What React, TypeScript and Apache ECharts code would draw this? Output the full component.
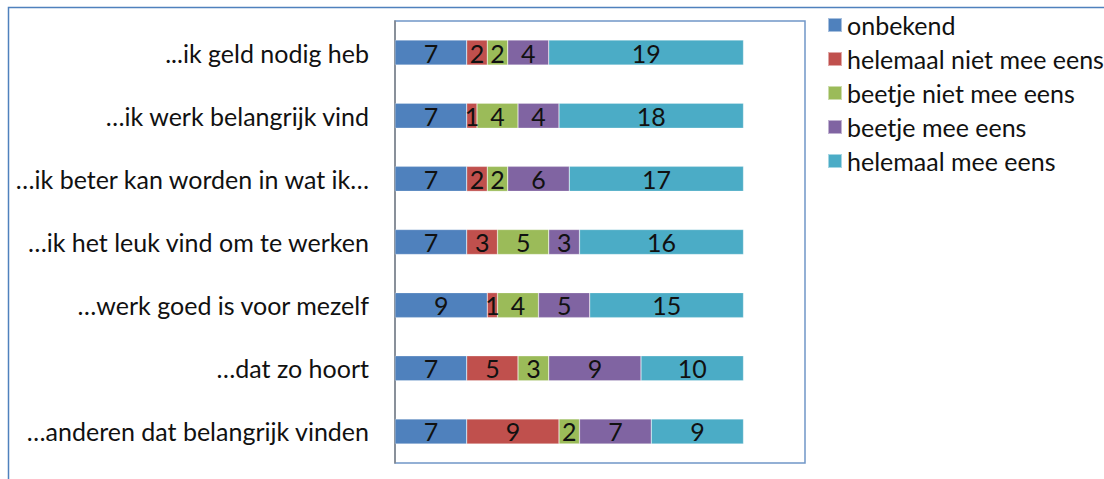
import React, { useEffect, useRef } from "react";
import * as echarts from "echarts";

const categories = [
  "...ik geld nodig heb",
  "…ik werk belangrijk vind",
  "…ik beter kan worden in wat ik…",
  "…ik het leuk vind om te werken",
  "…werk goed is voor mezelf",
  "…dat zo hoort",
  "…anderen dat belangrijk vinden",
];
const seriesNames = [
  "onbekend",
  "helemaal niet mee eens",
  "beetje niet mee eens",
  "beetje mee eens",
  "helemaal mee eens",
];
const onbekend = [7, 7, 7, 7, 9, 7, 7];
const helemaalNiet = [2, 1, 2, 3, 1, 5, 9];
const beetjeNiet = [2, 4, 2, 5, 4, 3, 2];
const beetjeMee = [4, 4, 6, 3, 5, 9, 7];
const helemaalMee = [19, 18, 17, 16, 15, 10, 9];
const colors = ["#4F81BD", "#C0504D", "#9BBB59", "#8064A2", "#4BACC6"];

const FONT = "Lato";

export default function App() {
  const ref = useRef<HTMLDivElement>(null);
  useEffect(() => {
    document.body.style.margin = "0";
    const chart = echarts.init(ref.current!, undefined, { renderer: "svg" });
    const values = [onbekend, helemaalNiet, beetjeNiet, beetjeMee, helemaalMee];
    chart.setOption({
      animation: false,
      color: colors,
      textStyle: { fontFamily: FONT },
      grid: {
        left: 395,
        top: 21,
        width: 410,
        height: 442,
        show: true,
        borderColor: "#7096C8",
        borderWidth: 1.5,
        backgroundColor: "#fff",
      },
      legend: {
        orient: "vertical",
        left: 827,
        top: 8,
        padding: 0,
        itemWidth: 14,
        itemHeight: 14,
        itemGap: 0,
        icon: "rect",
        data: seriesNames,
        textStyle: { fontSize: 25, color: "#111", fontFamily: FONT, lineHeight: 34 },
      },
      xAxis: {
        type: "value",
        min: 0,
        max: 40,
        show: false,
        splitLine: { show: false },
      },
      yAxis: {
        type: "category",
        data: categories,
        inverse: true,
        axisLine: { show: true, lineStyle: { color: "#868686", width: 1.5 } },
        axisTick: { show: false },
        axisLabel: { fontSize: 25, color: "#111", margin: 26, fontFamily: FONT },
      },
      graphic: [
        {
          type: "rect",
          shape: { x: 8.5, y: 7.5, width: 1200, height: 600 },
          style: { fill: "none", stroke: "#4F81BD", lineWidth: 1.5 },
          z: -1,
        },
      ],
      series: seriesNames.map((name, i) => ({
        name,
        type: "bar",
        stack: "total",
        barWidth: 25,
        data: values[i],
        itemStyle: { color: colors[i], borderColor: "rgba(255,255,255,0.5)", borderWidth: 0.5 },
        label: {
          show: true,
          position: "inside",
          color: "#111",
          fontSize: 25,
          fontFamily: FONT,
        },
      })),
    });
    return () => chart.dispose();
  }, []);
  return <div ref={ref} style={{ width: 1104, height: 479 }} />;
}
